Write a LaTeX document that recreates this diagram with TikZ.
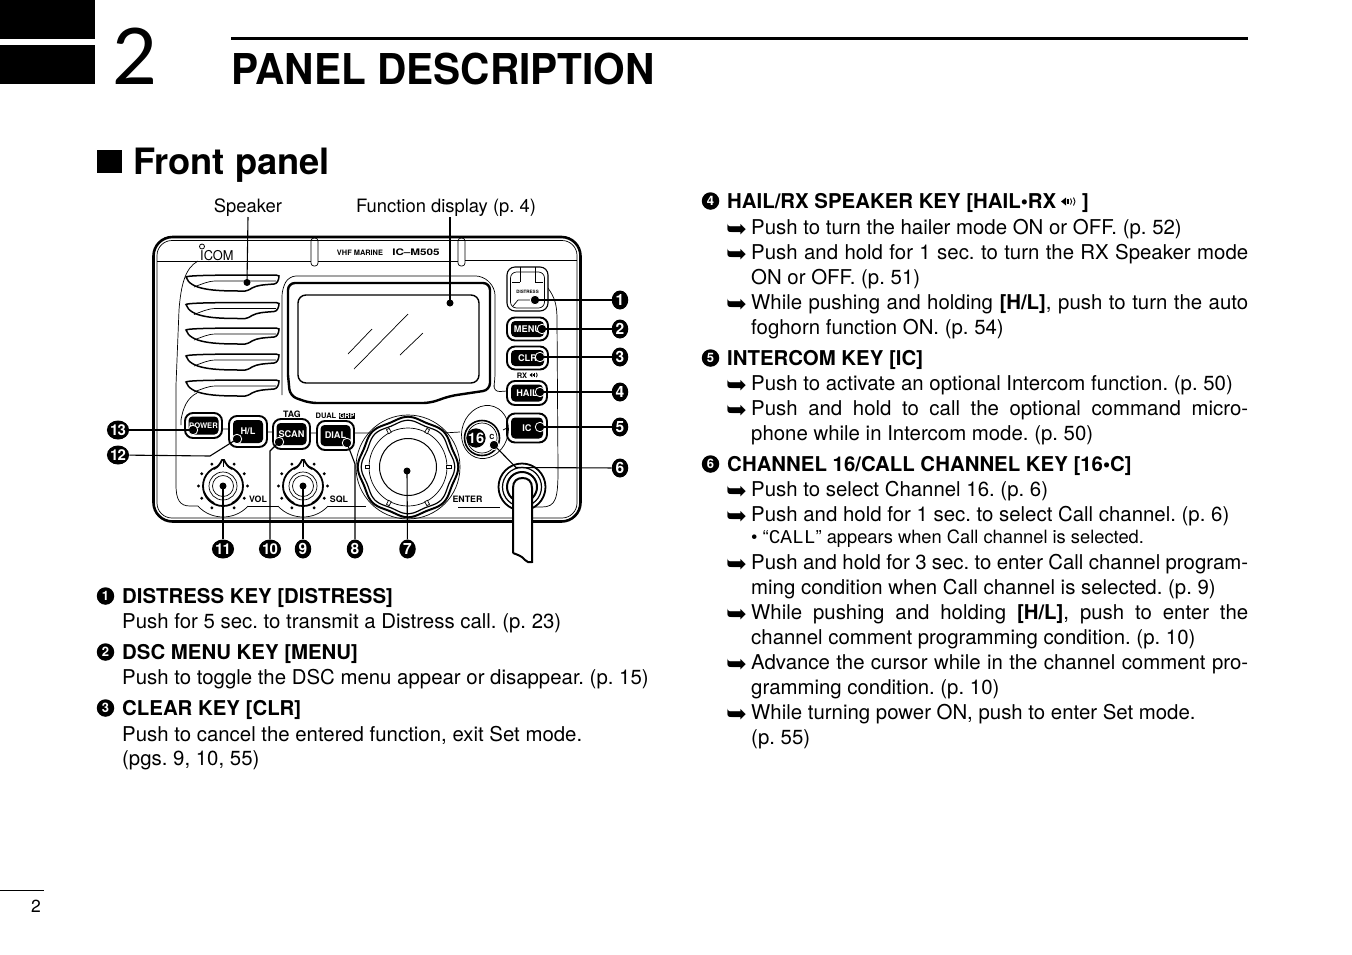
\documentclass[tikz,border=0pt]{standalone}
\usepackage{fontspec}
\setmainfont{TeX Gyre Heros}
\newfontfamily\dingfont{DejaVu Sans}
\newfontfamily\lcdfont{Liberation Mono}
\newfontfamily\thinfont{Lato}
\usetikzlibrary{calc, positioning, shapes.geometric}
\newcommand{\pxf}[1]{\fontsize{#1}{#1}\selectfont}
\newcommand{\just}[1]{\makebox[497pt][s]{#1}}
\tikzset{
  thinpart/.style={line width=.7pt},
  thickpart/.style={line width=2pt},
  bodyline/.style={anchor=base west, inner sep=0pt, font=\pxf{20.4}},
  headline/.style={anchor=base west, inner sep=0pt, font=\pxf{20.4}\bfseries},
  smallline/.style={anchor=base west, inner sep=0pt, font=\pxf{18.3}},
  toplabel/.style={anchor=base, inner sep=0pt, font=\pxf{18.4}},
  bullet/.style={circle, fill=black, text=white, inner sep=0pt, minimum size=17.5pt, font=\pxf{13}\bfseries},
  callout/.style={ellipse, fill=black, text=white, inner sep=0pt, minimum width=16.5pt, minimum height=19pt, font=\pxf{15.5}\bfseries},
  calloutw/.style={callout, minimum width=20pt, font=\pxf{15}\bfseries},
  keydot/.style={circle, fill=black, draw=white, line width=.8pt, inner sep=0pt, minimum size=9.5pt},
  plaindot/.style={circle, fill=black, inner sep=0pt, minimum size=7pt},
  leader/.style={line width=1.1pt},
  keyouter/.style={draw, fill=white, line width=1.9pt, rounded corners=8pt, inner sep=0pt},
  keyinner/.style={fill=black, text=white, rounded corners=4pt, inner sep=0pt, font=\pxf{9.2}\bfseries},
  panellabel/.style={anchor=base, inner sep=0pt, font=\pxf{8.8}\bfseries},
  slotshape/.pic={
    \draw[line width=1.5pt, fill=white] (186,277) .. controls (188,275) and (230,275) .. (276,275) -- (279,276)
      .. controls (279,280) and (277,284) .. (274,284) .. controls (262,285) and (258,285) .. (252,288)
      .. controls (246,292) and (244,291) .. (240,291) .. controls (215,291) and (190,290) .. (186,277) -- cycle;
    \draw[thinpart] (194,287) .. controls (202,284) and (208,281) .. (216,281) -- (276,281);
  },
  knobshape/.pic={
    \foreach \a in {-117,-63,-30,0,30,63,117,150,180,-150} \fill (\a:24.5) circle (1.6pt);
    \draw[line width=1.8pt, fill=white] (0,0) circle (20pt);
    \draw[line width=1.8pt, fill=white] (-9,-17) .. controls (-5,-19) and (-3,-22) .. (-1,-26) -- (1,-26) .. controls (3,-22) and (5,-19) .. (9,-17);
    \draw[thinpart] (0,-26) -- (0,-19);
    \draw[thinpart] (0,0) circle (14pt) (0,0) circle (10.5pt);
    \draw[line width=1.6pt] (-19,6) .. controls (-16,12) and (-13,15) .. (-9,17) (19,6) .. controls (16,12) and (13,15) .. (9,17);
    \draw[thinpart] (-25,20) .. controls (-18,28) and (-8,31) .. (0,31) .. controls (8,31) and (18,28) .. (25,20);
  },
  speakericon/.pic={
    \fill (0,0) -- (5,-4) -- (5,4) -- cycle;
    \fill (6,-2.5) rectangle (7.5,2.5);
    \draw[line width=.9pt] (9.5,-3) .. controls (11,-1) and (11,1) .. (9.5,3);
    \draw[line width=.9pt] (12.5,-4) .. controls (14.5,-1.5) and (14.5,1.5) .. (12.5,4);
  },
}
\frenchspacing
\begin{document}
\begin{tikzpicture}[x=1pt,y=-1pt]
\useasboundingbox (0,0) rectangle (1352,954);
% page head
\fill (0,0) rectangle (95,39);
\fill (0,45) rectangle (95,84);
\node[anchor=base west, inner sep=0pt, font=\pxf{78}\thinfont] (chapnum) at (112,84) {2};
\draw[line width=3pt] (231,38.5) -- (1248,38.5);
\node[anchor=base west, inner sep=0pt, font=\pxf{42.5}\bfseries] (chaptitle) at (231,84) {\scalebox{.955}[1]{PANEL DESCRIPTION}};
\node[fill=black, inner sep=0pt, minimum width=25pt, minimum height=23pt] (secmark) at (109.5,161.5) {};
\node[anchor=base west, inner sep=0pt, font=\pxf{36.3}\bfseries] (sectitle) at (133,174) {Front panel};
\draw[line width=.7pt] (0,890.5) -- (44,890.5);
\node[anchor=base west, inner sep=0pt, font=\pxf{17.5}] (folio) at (31,912) {2};

% radio body
\draw[line width=2.6pt, rounded corners=19pt] (153.5,237) rectangle (580.5,521.5);
\draw[thinpart, rounded corners=15pt] (157,240.5) rectangle (577,518);
\draw[thinpart] (157,261) -- (311,261) (318,261) -- (458,261) (465,260) -- (577,260);
\draw[thinpart, rounded corners=3pt] (311,266) -- (311,238) -- (318,238) -- (318,266) -- cycle;
\draw[thinpart, rounded corners=3pt] (458,266) -- (458,238) -- (465,238) -- (465,266) -- cycle;
\draw[thinpart] (198,261) .. controls (185,268) and (181,285) .. (179,310) -- (176,385) -- (176,485) .. controls (176,500) and (180,506) .. (190,506) -- (198,506);
\draw[thinpart] (248,506) -- (278,506) (328,506) -- (366,506) (458,507) -- (500,507);
\draw[thinpart] (548,288) .. controls (555,298) and (557,305) .. (557,320) -- (558,470) .. controls (558,498) and (556,507) .. (542,507) -- (530,507);
\draw[thinpart] (197,393) .. controls (187,398) and (183,408) .. (181,420) -- (181,425);
% logo and model
\draw[line width=.8pt] (202,246.5) circle (2.5pt);
\node[anchor=base west, inner sep=0pt, font=\pxf{13.5}] (logo) at (200,260) {\scalebox{.95}[1]{ICOM}};
\node[panellabel, font=\pxf{7.4}\bfseries] (marine) at (360,255) {VHF MARINE};
\node[panellabel, font=\pxf{9}\bfseries] (model) at (416,255.5) {\scalebox{1.3}[1]{IC--M505}};
% speaker slots
\foreach \s in {0,27.5,53,79,105} \pic at (0,\s) {slotshape};
% display
\draw[thinpart, rounded corners=7pt] (282,395) -- (282,289) -- (289,276) -- (483,276) -- (495,288) -- (495,380) -- (493,392) -- (507,391);
\draw[line width=2.4pt, rounded corners=7pt] (288,375) -- (288,283) -- (490,283) -- (490,390) -- (450,396) -- (430,403) -- (310,403) -- (290,396) -- (288,375);
\draw[line width=1.4pt, rounded corners=8pt] (298,295) rectangle (479,383);
\draw[thinpart] (348,354) -- (372,329) (354,369) -- (408,314) (400,355) -- (423,333);
% small links between keys
\draw[thinpart] (222,429) -- (229,429) (267,432) -- (273,432) (310,433) -- (317,433) (354,433) -- (372,433) (443,433) -- (460,432) (503,430) -- (507,428);
% keys
\node[keyouter, line width=1.1pt, minimum width=41pt, minimum height=44pt] (distressbox) at (527.5,289) {};
\draw[thinpart, rounded corners=6pt] (510.5,272) rectangle (544.5,308);
\draw[thinpart] (520,267) -- (520,282) (535,267) -- (535,282) (512,282) -- (520,282) (535,282) -- (543,282);
\draw[thinpart] (513,306) -- (518,300) -- (535,300);
\node[panellabel, font=\pxf{4.5}\bfseries] (distresslabel) at (527.5,293) {DISTRESS};
\foreach \nm/\tx/\cx/\cy/\w/\h/\iw/\ih in {%
  menu/MENU/527.5/329/41/23/33/16,clr/CLR/527.5/358/41/23/33/16,hail/HAIL/527/393/40/24/32/17,ic/IC/527/428/40/29/32/21,%
  power/\pxf{7.6}POWER/203.5/425.5/37/25/30/18,hl/H\slash L/248/431.5/38/31/30/23,scan/SCAN/291.5/434/37/30/30/22,dial/DIAL/335.5/435.5/37/29/30/21}
{
  \node[keyouter, minimum width=\w pt, minimum height=\h pt] (\nm box) at (\cx,\cy) {};
  \node[keyinner, minimum width=\iw pt, minimum height=\ih pt] (\nm key) at (\cx,\cy) {\tx};
}
\node[panellabel] (taglabel) at (292,417.5) {TAG};
\node[panellabel, font=\pxf{7.5}\bfseries] (duallabel) at (326,418.5) {DUAL};
\node[fill=black, text=white, inner sep=.6pt, font=\pxf{7}\bfseries, right=2pt of duallabel] (grplabel) {GRP};
\node[panellabel, font=\pxf{7.5}\bfseries] (rxlabel) at (522,378) {RX};
\pic[scale=.55] at (529.5,375) {speakericon};
\node[panellabel] (vollabel) at (258,502) {VOL};
\node[panellabel] (sqllabel) at (339,502) {SQL};
\node[panellabel] (enterlabel) at (467.5,502) {ENTER};
% knobs
\pic at (223,486) {knobshape};
\pic at (303,486) {knobshape};
% main dial
\begin{scope}[shift={(408,467)}]
  \draw[thinpart] (0,0) circle (52pt);
  \draw[line width=2pt, fill=white] plot[smooth cycle, domain=0:352.5, samples=48] (\x:{49+1.3*cos(8*\x)});
  \draw[line width=1.2pt] plot[smooth cycle, domain=0:352.5, samples=48] (\x:{45.5+1.3*cos(8*\x)});
  \draw[thinpart] (0,0) circle (39pt);
  \draw[line width=1pt] (0,0) circle (28.5pt);
  \foreach \a in {-62,-118,180,0,62,118} \draw[thinpart, fill=white, rotate=\a] (38.5,-1.5) rectangle (43,1.5);
\end{scope}
% 16 key
\draw[thinpart, rotate around={-20:(485,432)}] (485,432) ellipse (23pt and 27pt);
\draw[line width=1.6pt, fill=white] (482,438) circle (17.5pt);
\draw[thinpart] (482,438) circle (15pt);
\node[circle, fill=black, text=white, inner sep=0pt, minimum size=19pt, font=\pxf{14.5}\bfseries] (chan16) at (476,438) {16};
\node[inner sep=0pt, font=\pxf{7}\bfseries] (callc) at (492,437) {C};
% cable gland and cable
\draw[line width=1.8pt, fill=white] (522,487) circle (23.5pt);
\draw[line width=1.2pt] (522,487) circle (19.5pt);
\draw[line width=2pt] (522,487) circle (15pt);
\draw[line width=2pt, fill=white] (513,553) -- (513,488) .. controls (513,481) and (517,478) .. (522.5,478) .. controls (528,478) and (532,481) .. (532,488) -- (532,562) .. controls (529,563) and (527,562) .. (525,560) .. controls (522,556) and (518,555) .. (513,553);

% dots
\node[plaindot] (speakerdot) at (247,282.5) {};
\node[plaindot] (displaydot) at (450,303) {};
\node[keydot] (k1) at (535,300) {};
\node[keydot] (k2) at (542,329) {};
\node[keydot] (k3) at (540,357) {};
\node[keydot] (k4) at (540,392) {};
\node[keydot] (k5) at (540,427) {};
\node[keydot] (k6) at (494,445) {};
\node[plaindot] (k7) at (407,471) {};
\node[keydot] (k8) at (347,443) {};
\node[plaindot] (k9) at (303,486) {};
\node[keydot] (k10) at (279,442) {};
\node[plaindot] (k11) at (223,486) {};
\node[keydot] (k12) at (237,439) {};
\node[keydot] (k13) at (193,430) {};

% callouts
\node[callout] (n1) at (620,300) {1};
\node[callout] (n2) at (620,329) {2};
\node[callout] (n3) at (620,357) {3};
\node[callout] (n4) at (620,392) {4};
\node[callout] (n5) at (620,427) {5};
\node[callout] (n6) at (620,468) {6};
\node[callout] (n7) at (407.5,549) {7};
\node[callout] (n8) at (355,549) {8};
\node[callout] (n9) at (303,549) {9};
\node[calloutw] (n10) at (270,549) {1\kern-1pt 0};
\node[calloutw] (n11) at (223,549) {1\kern-1pt 1};
\node[calloutw] (n12) at (118,455) {1\kern-1pt 2};
\node[calloutw] (n13) at (118,430) {1\kern-1pt 3};

% labels above the panel
\node[toplabel] (speakertext) at (248,212) {Speaker};
\node[toplabel] (displaytext) at (446,212) {Function display (p. 4)};
\draw[leader] (248,217) -- (speakerdot.center);
\draw[leader] (450,217) -- (displaydot.center);
\foreach \i in {1,2,3,4,5} \draw[leader] (k\i.center) -- (k\i.center -| n\i.west);
\draw[leader] (k6.center) -- (516,467.5) -- (n6);
\draw[leader] (k7.center) -- (n7);
\draw[leader] (k8.center) -- (355,464) -- (n8);
\draw[leader] (k9.center) -- (n9);
\draw[leader] (k10.center) -- (270,451) -- (n10);
\draw[leader] (k11.center) -- (n11);
\draw[leader] (k12.center) -- (210,456) -- (n12);
\draw[leader] (k13.center) -- (n13);

% left column
\foreach \i/\y/\t in {1/603/{DISTRESS KEY [DISTRESS]},2/659/{DSC MENU KEY [MENU]},3/715/{CLEAR KEY [CLR]}}
{
  \node[bullet] (b\i) at (105.5,\y-7) {\i};
  \node[headline] (h\i) at (122,\y) {\t};
}
\foreach \y/\t in {628/{Push for 5 sec. to transmit a Distress call. (p. 23)},
  684/{Push to toggle the DSC menu appear or disappear. (p. 15)},
  741/{Push to cancel the entered function, exit Set mode.},
  765/{(pgs. 9, 10, 55)}}
  \node[bodyline] (t\y) at (122,\y) {\t};

% right column
\foreach \i/\y/\t in {4/208/{HAIL/RX SPEAKER KEY [HAIL•RX},5/365/{INTERCOM KEY [IC]},6/471/{CHANNEL 16/CALL CHANNEL KEY [16•C]}}
{
  \node[bullet] (b\i) at (710.5,\y-7) {\i};
  \node[headline] (h\i) at (727,\y) {\t};
}
\pic at (1061,201.5) {speakericon};
\node[headline] (hclose) at (1082,208) {]};
\foreach \y in {234,259,309,390,415,496,521,569,619,669,719}
  \node[anchor=base west, inner sep=0pt, font=\pxf{25}\dingfont] (a\y) at (726,\y+3) {➥};
\foreach \y/\t in {234/{Push to turn the hailer mode ON or OFF. (p. 52)},
  259/{\just{Push and hold for 1 sec. to turn the RX Speaker mode}},
  284/{ON or OFF. (p. 51)},
  309/{\just{While pushing and holding \textbf{[H/L]}, push to turn the auto}},
  334/{foghorn function ON. (p. 54)},
  390/{Push to activate an optional Intercom function. (p. 50)},
  415/{\just{Push and hold to call the optional command micro-}},
  440/{phone while in Intercom mode. (p. 50)},
  496/{Push to select Channel 16. (p. 6)},
  521/{Push and hold for 1 sec. to select Call channel. (p. 6)},
  569/{\just{Push and hold for 3 sec. to enter Call channel program-}},
  594/{ming condition when Call channel is selected. (p. 9)},
  619/{\just{While pushing and holding \textbf{[H/L]}, push to enter the}},
  644/{channel comment programming condition. (p. 10)},
  669/{\just{Advance the cursor while in the channel comment pro-}},
  694/{gramming condition. (p. 10)},
  719/{While turning power ON, push to enter Set mode.},
  744/{(p. 55)}}
  \node[bodyline] (t\y) at (751,\y) {\t};
\node[smallline] (callnote) at (751,543) {• “{\lcdfont\pxf{19.5}CALL}” appears when Call channel is selected.};
\end{tikzpicture}
\end{document}
